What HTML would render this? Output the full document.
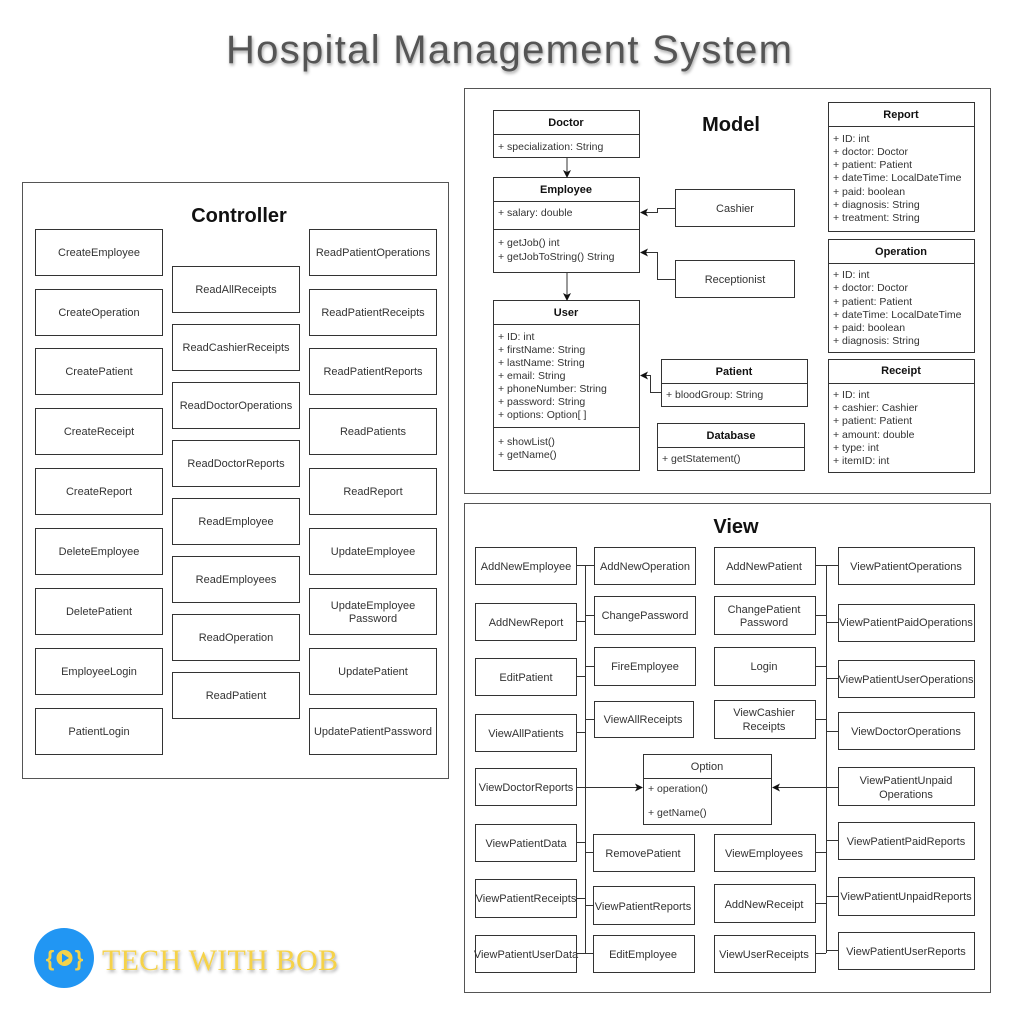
<!DOCTYPE html>
<html><head><meta charset="utf-8"><style>
html,body{margin:0;padding:0;background:#fff;}
svg{display:block;}
text{font-family:"Liberation Sans",Arial,sans-serif;}
.b{fill:#fff;stroke:#333;stroke-width:1;}
.p{fill:#fff;stroke:#555;stroke-width:1;}
.t{font-size:11px;fill:#333;text-anchor:middle;}
.v{font-size:11px;fill:#333;text-anchor:middle;}
.m{font-size:10.5px;fill:#333;}
.h{font-size:11px;fill:#111;font-weight:bold;text-anchor:middle;}
.l{stroke:#333;stroke-width:1;fill:none;}
</style></head><body>
<svg width="1018" height="1024" viewBox="0 0 1018 1024" xmlns="http://www.w3.org/2000/svg">
<defs>
<filter id="sh" x="-5%" y="-20%" width="110%" height="150%"><feDropShadow dx="1" dy="2" stdDeviation="1.5" flood-color="#000" flood-opacity="0.35"/></filter>
<marker id="ar" markerWidth="8" markerHeight="8" refX="7" refY="4" orient="auto" markerUnits="userSpaceOnUse"><path d="M0,0 L8,4 L0,8 L2,4 z" fill="#111"/></marker>
</defs>
<text x="509" y="63" font-size="40" fill="#555" text-anchor="middle" textLength="566" filter="url(#sh)">Hospital Management System</text>

<!-- Controller -->
<rect x="22.5" y="182.5" width="426" height="596" class="p"/>
<text x="239" y="222" font-size="20" font-weight="bold" text-anchor="middle" fill="#111">Controller</text>
<g>
<rect x="35.5" y="229.5" width="127" height="46" class="b"/><text x="99" y="256" class="t">CreateEmployee</text>
<rect x="35.5" y="289.5" width="127" height="46" class="b"/><text x="99" y="316" class="t">CreateOperation</text>
<rect x="35.5" y="348.5" width="127" height="46" class="b"/><text x="99" y="375" class="t">CreatePatient</text>
<rect x="35.5" y="408.5" width="127" height="46" class="b"/><text x="99" y="435" class="t">CreateReceipt</text>
<rect x="35.5" y="468.5" width="127" height="46" class="b"/><text x="99" y="495" class="t">CreateReport</text>
<rect x="35.5" y="528.5" width="127" height="46" class="b"/><text x="99" y="555" class="t">DeleteEmployee</text>
<rect x="35.5" y="588.5" width="127" height="46" class="b"/><text x="99" y="615" class="t">DeletePatient</text>
<rect x="35.5" y="648.5" width="127" height="46" class="b"/><text x="99" y="675" class="t">EmployeeLogin</text>
<rect x="35.5" y="708.5" width="127" height="46" class="b"/><text x="99" y="735" class="t">PatientLogin</text>

<rect x="172.5" y="266.5" width="127" height="46" class="b"/><text x="236" y="293" class="t">ReadAllReceipts</text>
<rect x="172.5" y="324.5" width="127" height="46" class="b"/><text x="236" y="351" class="t">ReadCashierReceipts</text>
<rect x="172.5" y="382.5" width="127" height="46" class="b"/><text x="236" y="409" class="t">ReadDoctorOperations</text>
<rect x="172.5" y="440.5" width="127" height="46" class="b"/><text x="236" y="467" class="t">ReadDoctorReports</text>
<rect x="172.5" y="498.5" width="127" height="46" class="b"/><text x="236" y="525" class="t">ReadEmployee</text>
<rect x="172.5" y="556.5" width="127" height="46" class="b"/><text x="236" y="583" class="t">ReadEmployees</text>
<rect x="172.5" y="614.5" width="127" height="46" class="b"/><text x="236" y="641" class="t">ReadOperation</text>
<rect x="172.5" y="672.5" width="127" height="46" class="b"/><text x="236" y="699" class="t">ReadPatient</text>

<rect x="309.5" y="229.5" width="127" height="46" class="b"/><text x="373" y="256" class="t">ReadPatientOperations</text>
<rect x="309.5" y="289.5" width="127" height="46" class="b"/><text x="373" y="316" class="t">ReadPatientReceipts</text>
<rect x="309.5" y="348.5" width="127" height="46" class="b"/><text x="373" y="375" class="t">ReadPatientReports</text>
<rect x="309.5" y="408.5" width="127" height="46" class="b"/><text x="373" y="435" class="t">ReadPatients</text>
<rect x="309.5" y="468.5" width="127" height="46" class="b"/><text x="373" y="495" class="t">ReadReport</text>
<rect x="309.5" y="528.5" width="127" height="46" class="b"/><text x="373" y="555" class="t">UpdateEmployee</text>
<rect x="309.5" y="588.5" width="127" height="46" class="b"/><text x="373" y="609" class="t">UpdateEmployee</text><text x="373" y="622" class="t">Password</text>
<rect x="309.5" y="648.5" width="127" height="46" class="b"/><text x="373" y="675" class="t">UpdatePatient</text>
<rect x="309.5" y="708.5" width="127" height="46" class="b"/><text x="373" y="735" class="t">UpdatePatientPassword</text>
</g>

<!-- Model -->
<rect x="464.5" y="88.5" width="526" height="405" class="p"/>
<text x="731" y="131" font-size="20" font-weight="bold" text-anchor="middle" fill="#111">Model</text>

<rect x="493.5" y="110.5" width="146" height="47" class="b"/><line x1="493" y1="134.5" x2="640" y2="134.5" class="l"/>
<text x="566" y="126" class="h">Doctor</text><text x="498" y="150" class="m">+ specialization: String</text>

<rect x="493.5" y="177.5" width="146" height="95" class="b"/><line x1="493" y1="201.5" x2="640" y2="201.5" class="l"/><line x1="493" y1="229.5" x2="640" y2="229.5" class="l"/>
<text x="566" y="193" class="h">Employee</text><text x="498" y="216" class="m">+ salary: double</text>
<text x="498" y="246" class="m">+ getJob() int</text><text x="498" y="260" class="m">+ getJobToString() String</text>

<rect x="493.5" y="300.5" width="146" height="170" class="b"/><line x1="493" y1="324.5" x2="640" y2="324.5" class="l"/><line x1="493" y1="427.5" x2="640" y2="427.5" class="l"/>
<text x="566" y="316" class="h">User</text>
<text x="498" y="340" class="m">+ ID: int</text>
<text x="498" y="353" class="m">+ firstName: String</text>
<text x="498" y="366" class="m">+ lastName: String</text>
<text x="498" y="379" class="m">+ email: String</text>
<text x="498" y="392" class="m">+ phoneNumber: String</text>
<text x="498" y="405" class="m">+ password: String</text>
<text x="498" y="418" class="m">+ options: Option[ ]</text>
<text x="498" y="445" class="m">+ showList()</text>
<text x="498" y="458" class="m">+ getName()</text>

<rect x="675.5" y="189.5" width="119" height="37" class="b"/><text x="735" y="212" class="t">Cashier</text>
<rect x="675.5" y="260.5" width="119" height="37" class="b"/><text x="735" y="283" class="t">Receptionist</text>

<rect x="661.5" y="359.5" width="146" height="47" class="b"/><line x1="661" y1="383.5" x2="808" y2="383.5" class="l"/>
<text x="734" y="375" class="h">Patient</text><text x="666" y="398" class="m">+ bloodGroup: String</text>
<rect x="657.5" y="423.5" width="147" height="47" class="b"/><line x1="657" y1="447.5" x2="805" y2="447.5" class="l"/>
<text x="731" y="439" class="h">Database</text><text x="662" y="462" class="m">+ getStatement()</text>

<line x1="567" y1="158" x2="567" y2="177" class="l" marker-end="url(#ar)"/>
<line x1="567" y1="273" x2="567" y2="300" class="l" marker-end="url(#ar)"/>
<path d="M675,208.5 H657.5 V212.5 H641" class="l" marker-end="url(#ar)"/>
<path d="M675,279.5 H657.5 V252.5 H641" class="l" marker-end="url(#ar)"/>
<path d="M661,392.5 H650.5 V375.5 H641" class="l" marker-end="url(#ar)"/>

<rect x="828.5" y="102.5" width="146" height="129" class="b"/><line x1="828" y1="126.5" x2="975" y2="126.5" class="l"/>
<text x="901" y="118" class="h">Report</text>
<text x="833" y="142" class="m">+ ID: int</text>
<text x="833" y="155" class="m">+ doctor: Doctor</text>
<text x="833" y="168" class="m">+ patient: Patient</text>
<text x="833" y="181" class="m">+ dateTime: LocalDateTime</text>
<text x="833" y="195" class="m">+ paid: boolean</text>
<text x="833" y="208" class="m">+ diagnosis: String</text>
<text x="833" y="221" class="m">+ treatment: String</text>

<rect x="828.5" y="239.5" width="146" height="113" class="b"/><line x1="828" y1="263.5" x2="975" y2="263.5" class="l"/>
<text x="901" y="255" class="h">Operation</text>
<text x="833" y="278" class="m">+ ID: int</text>
<text x="833" y="291" class="m">+ doctor: Doctor</text>
<text x="833" y="305" class="m">+ patient: Patient</text>
<text x="833" y="318" class="m">+ dateTime: LocalDateTime</text>
<text x="833" y="331" class="m">+ paid: boolean</text>
<text x="833" y="344" class="m">+ diagnosis: String</text>

<rect x="828.5" y="359.5" width="146" height="113" class="b"/><line x1="828" y1="383.5" x2="975" y2="383.5" class="l"/>
<text x="901" y="374" class="h">Receipt</text>
<text x="833" y="398" class="m">+ ID: int</text>
<text x="833" y="411" class="m">+ cashier: Cashier</text>
<text x="833" y="424" class="m">+ patient: Patient</text>
<text x="833" y="438" class="m">+ amount: double</text>
<text x="833" y="451" class="m">+ type: int</text>
<text x="833" y="464" class="m">+ itemID: int</text>

<!-- View -->
<rect x="464.5" y="503.5" width="526" height="489" class="p"/>
<text x="736" y="533" font-size="20" font-weight="bold" text-anchor="middle" fill="#111">View</text>

<path d="M585.5,565 V953 M826.5,565 V953" class="l"/>
<path d="M576,565.5 H594 M576,621.5 H585 M585,615.5 H594 M585,666.5 H594 M576,676.5 H585 M585,719.5 H594 M576,732.5 H585 M576,842.5 H585 M585,852.5 H594 M576,898.5 H585 M585,905.5 H594 M576,953.5 H594" class="l"/>
<path d="M815,565.5 H838 M815,615.5 H826 M826,622.5 H838 M815,666.5 H826 M826,678.5 H838 M815,719.5 H826 M826,731.5 H838 M826,840.5 H838 M815,852.5 H826 M826,896.5 H838 M815,903.5 H826 M815,953.5 H826 M826,950.5 H838" class="l"/>
<line x1="576" y1="787.5" x2="642" y2="787.5" class="l" marker-end="url(#ar)"/>
<line x1="838" y1="787.5" x2="773" y2="787.5" class="l" marker-end="url(#ar)"/>

<rect x="475.5" y="547.5" width="101" height="37" class="b"/><text x="526" y="570" class="v">AddNewEmployee</text>
<rect x="475.5" y="603.5" width="101" height="37" class="b"/><text x="526" y="626" class="v">AddNewReport</text>
<rect x="475.5" y="658.5" width="101" height="37" class="b"/><text x="526" y="681" class="v">EditPatient</text>
<rect x="475.5" y="714.5" width="101" height="37" class="b"/><text x="526" y="737" class="v">ViewAllPatients</text>
<rect x="475.5" y="768.5" width="101" height="37" class="b"/><text x="526" y="791" class="v">ViewDoctorReports</text>
<rect x="475.5" y="824.5" width="101" height="37" class="b"/><text x="526" y="847" class="v">ViewPatientData</text>
<rect x="475.5" y="879.5" width="101" height="38" class="b"/><text x="526" y="902" class="v">ViewPatientReceipts</text>
<rect x="475.5" y="935.5" width="101" height="37" class="b"/><text x="526" y="958" class="v">ViewPatientUserData</text>

<rect x="594.5" y="547.5" width="101" height="37" class="b"/><text x="645" y="570" class="v">AddNewOperation</text>
<rect x="594.5" y="596.5" width="101" height="38" class="b"/><text x="645" y="619" class="v">ChangePassword</text>
<rect x="594.5" y="647.5" width="101" height="38" class="b"/><text x="645" y="670" class="v">FireEmployee</text>
<rect x="594.5" y="701.5" width="99" height="36" class="b"/><text x="643" y="723" class="v">ViewAllReceipts</text>
<rect x="593.5" y="834.5" width="101" height="37" class="b"/><text x="643" y="857" class="v">RemovePatient</text>
<rect x="593.5" y="886.5" width="101" height="38" class="b"/><text x="643" y="910" class="v">ViewPatientReports</text>
<rect x="593.5" y="935.5" width="101" height="37" class="b"/><text x="643" y="958" class="v">EditEmployee</text>

<rect x="714.5" y="547.5" width="101" height="37" class="b"/><text x="764" y="570" class="v">AddNewPatient</text>
<rect x="714.5" y="596.5" width="101" height="38" class="b"/><text x="764" y="613" class="v">ChangePatient</text><text x="764" y="626" class="v">Password</text>
<rect x="714.5" y="647.5" width="101" height="38" class="b"/><text x="764" y="670" class="v">Login</text>
<rect x="714.5" y="700.5" width="101" height="38" class="b"/><text x="764" y="716" class="v">ViewCashier</text><text x="764" y="730" class="v">Receipts</text>
<rect x="714.5" y="834.5" width="101" height="37" class="b"/><text x="764" y="857" class="v">ViewEmployees</text>
<rect x="714.5" y="884.5" width="101" height="38" class="b"/><text x="764" y="908" class="v">AddNewReceipt</text>
<rect x="714.5" y="935.5" width="101" height="37" class="b"/><text x="764" y="958" class="v">ViewUserReceipts</text>

<rect x="838.5" y="547.5" width="136" height="37" class="b"/><text x="906" y="570" class="v">ViewPatientOperations</text>
<rect x="838.5" y="604.5" width="136" height="37" class="b"/><text x="906" y="626" class="v">ViewPatientPaidOperations</text>
<rect x="838.5" y="660.5" width="136" height="37" class="b"/><text x="906" y="683" class="v">ViewPatientUserOperations</text>
<rect x="838.5" y="712.5" width="136" height="37" class="b"/><text x="906" y="735" class="v">ViewDoctorOperations</text>
<rect x="838.5" y="767.5" width="136" height="38" class="b"/><text x="906" y="784" class="v">ViewPatientUnpaid</text><text x="906" y="798" class="v">Operations</text>
<rect x="838.5" y="822.5" width="136" height="37" class="b"/><text x="906" y="845" class="v">ViewPatientPaidReports</text>
<rect x="838.5" y="877.5" width="136" height="38" class="b"/><text x="906" y="900" class="v">ViewPatientUnpaidReports</text>
<rect x="838.5" y="932.5" width="136" height="37" class="b"/><text x="906" y="955" class="v">ViewPatientUserReports</text>

<rect x="643.5" y="754.5" width="128" height="70" class="b"/><line x1="643" y1="778.5" x2="772" y2="778.5" class="l"/>
<text x="707" y="770" class="t">Option</text>
<text x="648" y="792" class="m" font-size="11">+ operation()</text>
<text x="648" y="816" class="m" font-size="11">+ getName()</text>

<!-- Logo -->
<circle cx="64" cy="958" r="30" fill="#2196f3"/>
<text x="50" y="966" font-size="22" font-weight="bold" fill="#f5d24a" text-anchor="middle">{</text>
<text x="79" y="966" font-size="22" font-weight="bold" fill="#f5d24a" text-anchor="middle">}</text>
<circle cx="64.5" cy="958" r="8" fill="#f5d24a"/>
<path d="M62,953.5 L69,958 L62,962.5 z" fill="#2196f3"/>
<text x="102" y="970" font-size="30" fill="#f5d24a" textLength="236" filter="url(#sh)" style="font-family:'Liberation Serif',serif">TECH WITH BOB</text>
</svg>
</body></html>
